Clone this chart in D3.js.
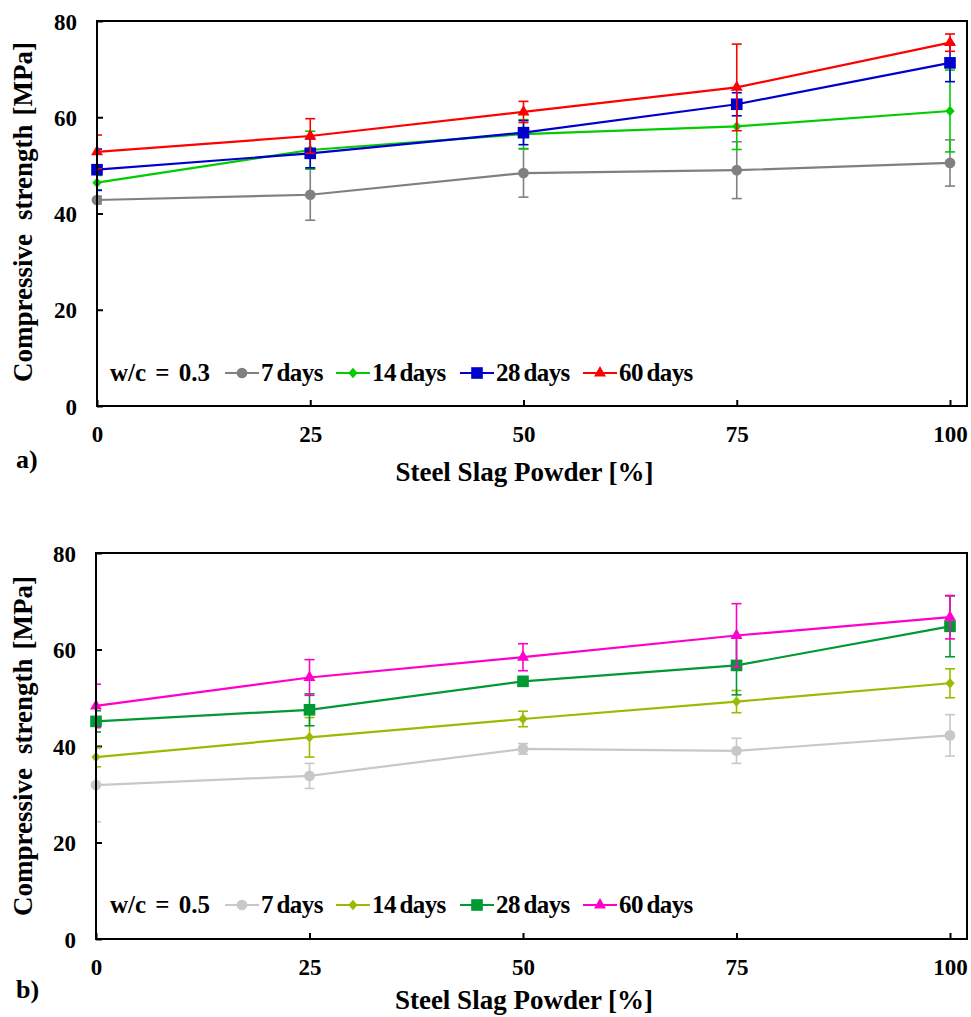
<!DOCTYPE html>
<html>
<head>
<meta charset="utf-8">
<script src="https://cdn.jsdelivr.net/npm/d3@7"></script>
<style>
  html, body { margin: 0; padding: 0; background: #fff; }
  svg { display: block; }
  svg text { font-family: 'Liberation Serif', Tinos, 'Times New Roman', Times, serif; font-weight: bold; fill: #000; }
</style>
</head>
<body>
<svg id="chart" width="971" height="1017"></svg>
<script>
// ---------- data ----------
const xValues = [0, 25, 50, 75, 100];
const xTicks = [0, 25, 50, 75, 100];
const yTicks = [0, 20, 40, 60, 80];
const seriesLabels = ["7 days", "14 days", "28 days", "60 days"];

// panel a) w/c = 0.3
const a7 = [42.8, 43.9, 48.4, 49.0, 50.5];
const a7err = [0.8, 5.3, 5.0, 5.9, 4.8];
const a14 = [46.4, 53.2, 56.5, 58.1, 61.3];
const a14err = [1.5, 3.9, 3.0, 4.8, 8.5];
const a28 = [49.1, 52.5, 56.8, 62.7, 71.3];
const a28err = [4.3, 3.0, 2.5, 2.4, 3.9];
const a60 = [52.8, 56.1, 61.1, 66.2, 75.5];
const a60err = [3.5, 3.6, 2.2, 9.0, 1.8];

// panel b) w/c = 0.5
const b7 = [31.9, 33.8, 39.4, 39.0, 42.2];
const b7err = [7.6, 2.6, 1.1, 2.6, 4.3];
const b14 = [37.7, 41.8, 45.6, 49.2, 53.0];
const b14err = [2.0, 4.1, 1.6, 2.3, 3.0];
const b28 = [45.1, 47.5, 53.4, 56.7, 64.8];
const b28err = [2.2, 3.3, 0.8, 6.1, 6.3];
const b60 = [48.3, 54.2, 58.4, 62.9, 66.7];
const b60err = [4.5, 3.7, 2.8, 6.6, 4.5];

const aColors = ["#808080", "#00cc00", "#0000cc", "#ff0000"];
const bColors = ["#c8c8c8", "#99bb00", "#009933", "#ff00cc"];
const markerTypes = ["circle", "diamond", "square", "triangle"];

// ---------- drawing ----------
const FONT = "'Liberation Serif', Tinos, 'Times New Roman', Times, serif";
const svg = d3.select("#chart");

const panels = [
  { label: "a)", wc: "w/c = 0.3", series: [a7, a14, a28, a60], errs: [a7err, a14err, a28err, a60err], colors: aColors,
    left: 97, right: 967, x100: 950, top: 21, bottom: 406, legendY: 381, tickLabelY: 442, titleY: 481, tagY: 468, yTitleY: 212 },
  { label: "b)", wc: "w/c = 0.5", series: [b7, b14, b28, b60], errs: [b7err, b14err, b28err, b60err], colors: bColors,
    left: 96, right: 967, x100: 950, top: 553, bottom: 939, legendY: 913, tickLabelY: 975, titleY: 1009, tagY: 998, yTitleY: 746 }
];

function markerPath(type) {
  if (type === "diamond") {
    const p = d3.path();
    p.moveTo(0, -5.2); p.lineTo(4.6, 0); p.lineTo(0, 5.2); p.lineTo(-4.6, 0); p.closePath();
    return p.toString();
  }
  const sym = { circle: d3.symbolCircle, square: d3.symbolSquare, triangle: d3.symbolTriangle }[type];
  const size = { circle: 90, square: 135, triangle: 62 }[type];
  return d3.symbol(sym, size)();
}

panels.forEach((p, pi) => {
  const g = svg.append("g").attr("font-family", FONT);
  const x = d3.scaleLinear().domain([0, 100]).range([p.left, p.x100]);
  const y = d3.scaleLinear().domain([0, 80]).range([p.bottom, p.top]);

  const clipId = "clip" + pi;
  svg.append("clipPath").attr("id", clipId).append("rect")
    .attr("x", p.left).attr("y", p.top - 10).attr("width", p.right - p.left).attr("height", p.bottom - p.top + 10);

  // y axis (ticks inward)
  const yAxis = g.append("g").attr("transform", `translate(${p.left},0)`)
    .call(d3.axisLeft(y).tickValues(yTicks).tickSize(-6).tickPadding(20).tickFormat(d3.format("d")));
  yAxis.attr("font-family", FONT).attr("font-size", 23);
  yAxis.select(".domain").remove();
  yAxis.selectAll(".tick line").attr("stroke", "#000").attr("stroke-width", 2);
  yAxis.selectAll(".tick text").style("font-size", "23px").attr("dy", "0.35em");

  // x axis (ticks inward)
  const xAxis = g.append("g").attr("transform", `translate(0,${p.bottom})`)
    .call(d3.axisBottom(x).tickValues(xTicks).tickSize(-6).tickPadding(0).tickFormat(d3.format("d")));
  xAxis.attr("font-family", FONT).attr("font-size", 23);
  xAxis.select(".domain").remove();
  xAxis.selectAll(".tick line").attr("stroke", "#000").attr("stroke-width", 2);
  xAxis.selectAll(".tick text").attr("y", p.tickLabelY - p.bottom).attr("dy", 0).style("font-size", "23px");

  // axis titles
  g.append("text").attr("x", (p.left + p.x100) / 2 + 1).attr("y", p.titleY)
    .attr("text-anchor", "middle").style("font-size", "27px").text("Steel Slag Powder [%]");
  const yt = g.append("text").attr("transform", `translate(32,${p.yTitleY}) rotate(-90)`)
    .attr("text-anchor", "middle").style("font-size", "27px");
  yt.append("tspan").text("Compressive");
  yt.append("tspan").attr("dx", 14).text("strength");
  yt.append("tspan").attr("dx", 9).text("[MPa]");
  g.append("text").attr("x", 16).attr("y", p.tagY).style("font-size", "26px").text(p.label);

  // series
  const line = d3.line().x((d, i) => x(xValues[i])).y(d => y(d));
  p.series.forEach((vals, si) => {
    const col = p.colors[si];
    const sg = g.append("g");
    const eg = sg.append("g").attr("clip-path", `url(#${clipId})`);
    vals.forEach((v, i) => {
      const e = p.errs[si][i];
      const cx = x(xValues[i]);
      eg.append("line").attr("x1", cx).attr("x2", cx).attr("y1", y(v - e)).attr("y2", y(v + e))
        .attr("stroke", col).attr("stroke-width", 1.6);
      [v - e, v + e].forEach(ev => {
        eg.append("line").attr("x1", cx - 5).attr("x2", cx + 5).attr("y1", y(ev)).attr("y2", y(ev))
          .attr("stroke", col).attr("stroke-width", 1.6);
      });
    });
    sg.append("path").datum(vals).attr("d", line).attr("fill", "none").attr("stroke", col).attr("stroke-width", 2.2);
    sg.selectAll("path.mk").data(vals).join("path").attr("class", "mk")
      .attr("transform", (d, i) => `translate(${x(xValues[i])},${y(d)})`)
      .attr("d", markerPath(markerTypes[si])).attr("fill", col);
  });

  // frame (drawn over the data like the original axes)
  g.append("rect")
    .attr("x", p.left).attr("y", p.top)
    .attr("width", p.right - p.left).attr("height", p.bottom - p.top)
    .attr("fill", "none").attr("stroke", "#000").attr("stroke-width", 2);

  // legend
  const lg = g.append("g");
  lg.append("text").attr("x", 110).attr("y", p.legendY).style("font-size", "25px").style("word-spacing", "3px").text(p.wc);
  const lineStarts = [225, 336, 460, 583];
  seriesLabels.forEach((lab, si) => {
    const lx = lineStarts[si];
    const ly = p.legendY - 8;
    lg.append("line").attr("x1", lx).attr("x2", lx + 34).attr("y1", ly).attr("y2", ly)
      .attr("stroke", p.colors[si]).attr("stroke-width", 2.2);
    lg.append("path").attr("transform", `translate(${lx + 17},${ly})`)
      .attr("d", markerPath(markerTypes[si])).attr("fill", p.colors[si]);
    lg.append("text").attr("x", lx + 36).attr("y", p.legendY).style("font-size", "25px")
      .style("letter-spacing", "-0.6px").style("word-spacing", "-2px").text(lab);
  });
});
</script>
</body>
</html>
